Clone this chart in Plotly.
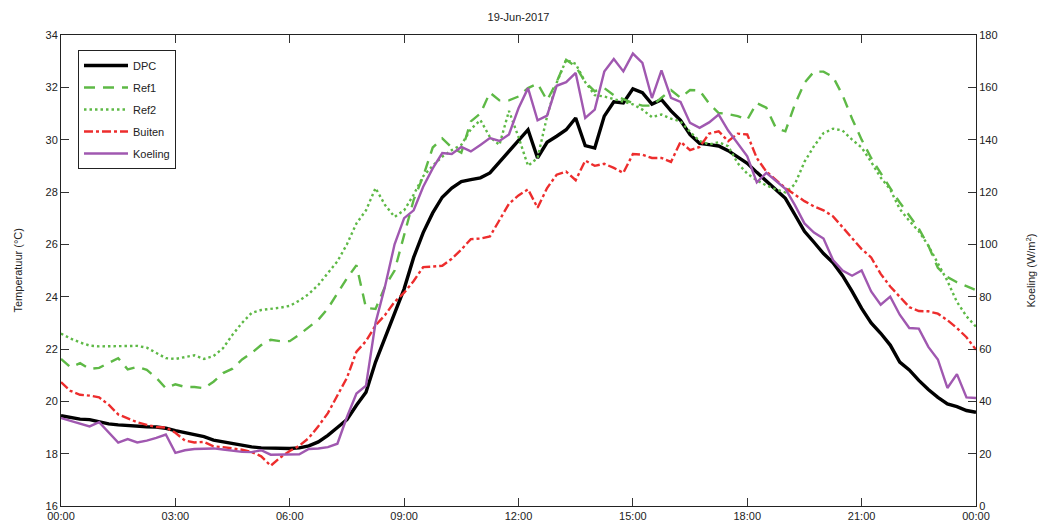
import pandas as pd
import plotly.graph_objects as go

times = pd.date_range("2017-06-19 00:00", periods=97, freq="15min")

dpc = [19.45, 19.38, 19.32, 19.3, 19.22, 19.14, 19.1, 19.07, 19.05, 19.03, 19.02, 18.97, 18.88, 18.8, 18.72, 18.65,
       18.52, 18.45, 18.38, 18.32, 18.26, 18.22, 18.21, 18.2, 18.2, 18.22, 18.3, 18.45, 18.7, 19.0, 19.3, 19.85,
       20.35, 21.5, 22.45, 23.4, 24.3, 25.5, 26.45, 27.2, 27.8, 28.15, 28.4, 28.47, 28.54, 28.73, 29.15, 29.55,
       30.0, 30.38, 29.3, 29.9, 30.13, 30.38, 30.83, 29.77, 29.68, 30.9, 31.45, 31.4, 31.94, 31.8, 31.36, 31.53,
       31.1, 30.74, 30.19, 29.86, 29.81, 29.76, 29.58, 29.35, 29.1, 28.75, 28.43, 28.12, 27.76, 27.13, 26.5, 26.08,
       25.65, 25.3, 24.8, 24.2, 23.55, 23.0, 22.6, 22.15, 21.5, 21.2, 20.8, 20.45, 20.15, 19.9, 19.8, 19.65, 19.58]

ref1 = [21.62, 21.3, 21.46, 21.24, 21.28, 21.45, 21.65, 21.22, 21.32, 21.2, 20.9, 20.5, 20.65, 20.55, 20.55, 20.5,
        20.75, 21.08, 21.25, 21.6, 21.85, 22.15, 22.35, 22.3, 22.3, 22.55, 22.85, 23.12, 23.55, 24.15, 24.7, 25.2,
        23.57, 23.53, 24.39, 25.0, 26.4, 27.7, 28.6, 29.7, 30.05, 29.7, 29.5, 30.7, 31.0, 31.8, 31.5, 31.5,
        31.65, 31.97, 32.14, 31.5, 32.2, 33.05, 32.8, 32.2, 31.85, 31.97, 31.7, 31.55, 31.4, 31.3, 31.3, 31.6,
        31.9, 31.6, 31.9, 31.88, 31.38, 31.02, 30.98, 30.9, 30.76, 31.4, 31.22, 30.45, 30.32, 31.35, 32.17, 32.6,
        32.6, 32.4, 31.7, 30.8, 30.0, 29.3, 28.7, 28.15, 27.6, 27.1, 26.6, 25.95, 25.1, 24.75, 24.55, 24.4, 24.25]

ref2 = [22.59, 22.4, 22.25, 22.13, 22.1, 22.1, 22.1, 22.1, 22.12, 22.05, 21.85, 21.65, 21.62, 21.68, 21.76, 21.62,
        21.73, 22.03, 22.55, 23.0, 23.38, 23.49, 23.53, 23.58, 23.65, 23.85, 24.1, 24.45, 24.9, 25.35, 26.0, 26.8,
        27.3, 28.15, 27.5, 27.05, 27.3, 27.9, 28.6, 29.0, 29.35, 29.6, 29.8, 30.4, 30.75, 30.1, 29.8, 31.1,
        30.1, 29.0, 29.3, 30.89, 32.17, 33.05, 32.9, 32.2, 31.7, 31.65, 31.55, 31.45, 31.35, 31.15, 30.86, 30.96,
        30.8, 30.7, 30.3, 29.95, 29.82, 29.9, 29.75, 29.1, 28.7, 28.45, 28.25, 28.1, 27.98, 28.3, 29.15, 29.75,
        30.25, 30.42, 30.35, 30.0, 29.7, 29.15, 28.55, 28.1, 27.35, 26.9, 26.5, 25.95, 25.3, 24.6, 23.8, 23.25, 22.85]

buiten = [20.73, 20.4, 20.25, 20.22, 20.15, 19.87, 19.5, 19.35, 19.2, 19.1, 19.02, 19.0, 18.8, 18.5, 18.43, 18.45,
          18.28, 18.25, 18.2, 18.15, 18.06, 17.9, 17.54, 17.85, 18.1, 18.3, 18.6, 19.05, 19.55, 20.2, 20.9, 21.9,
          22.3, 22.9, 23.3, 23.8, 24.15, 24.6, 25.13, 25.15, 25.18, 25.45, 25.8, 26.2, 26.22, 26.3, 26.9, 27.55,
          27.87, 28.1, 27.4, 28.15, 28.66, 28.78, 28.45, 29.2, 29.0, 29.08, 28.92, 28.73, 29.45, 29.43, 29.3, 29.3,
          29.15, 29.92, 29.6, 29.72, 30.23, 30.32, 29.94, 30.23, 30.2, 29.3, 28.78, 28.45, 28.15, 27.9, 27.65, 27.45,
          27.3, 27.07, 26.65, 26.2, 25.82, 25.5, 24.87, 24.39, 24.0, 23.6, 23.45, 23.44, 23.35, 23.1, 22.8, 22.45, 21.97]

koeling = [33.6, 32.5, 31.5, 30.4, 32.0, 28.0, 24.2, 25.6, 24.3, 25.0, 26.0, 27.3, 20.3, 21.3, 21.8, 21.9,
           22.0, 21.6, 21.2, 20.7, 20.6, 21.3, 19.6, 19.6, 19.7, 19.8, 21.8, 22.0, 22.5, 23.8, 34.0, 43.0,
           46.0, 70.0, 84.0, 100.0, 110.0, 113.0, 122.0, 129.0, 134.9, 134.5, 137.2, 135.5, 138.0, 140.6, 139.5, 142.0,
           152.0, 159.7, 147.4, 149.2, 160.6, 162.0, 165.5, 148.3, 151.5, 166.0, 170.8, 166.1, 172.9, 169.3, 155.9, 166.5,
           156.0, 154.4, 146.4, 144.5, 146.6, 149.6, 143.5, 138.5, 133.6, 123.7, 127.3, 124.3, 121.2, 115.0, 108.0, 104.5,
           102.2, 94.0, 90.0, 88.0, 90.0, 82.0, 76.9, 80.0, 73.1, 68.0, 67.8, 60.8, 56.0, 45.1, 50.4, 41.5, 41.3]

GREEN = "rgb(94,185,70)"
RED = "rgb(237,45,45)"
PURPLE = "rgb(160,88,176)"

fig = go.Figure()
fig.add_trace(go.Scatter(x=times, y=dpc, name="DPC", mode="lines", legendgroup="a",
                         line=dict(color="black", width=3.4)))
fig.add_trace(go.Scatter(x=times, y=ref1, name="Ref1", mode="lines", legendgroup="b",
                         line=dict(color=GREEN, width=2.4, dash="11px,8px")))
fig.add_trace(go.Scatter(x=times, y=ref2, name="Ref2", mode="lines", legendgroup="c",
                         line=dict(color=GREEN, width=2.4, dash="2.5px,3px")))
fig.add_trace(go.Scatter(x=times, y=buiten, name="Buiten", mode="lines", legendgroup="d",
                         line=dict(color=RED, width=2.4, dash="9px,3px,3px,3px")))
fig.add_trace(go.Scatter(x=times, y=koeling, name="Koeling", mode="lines", yaxis="y2", legendgroup="e",
                         line=dict(color=PURPLE, width=2.4)))

font = "Liberation Sans, Arial, Helvetica, sans-serif"
axis_common = dict(showgrid=False, zeroline=False, showline=True, linecolor="#222", linewidth=1,
                   ticks="inside", ticklen=8, tickcolor="#333", tickfont=dict(size=11, color="#222"))

fig.update_layout(
    width=1038, height=528,
    margin=dict(l=61, r=62, t=35, b=22, autoexpand=False),
    paper_bgcolor="white", plot_bgcolor="white",
    font=dict(family=font, size=11, color="#222"),
    title=dict(text="19-Jun-2017", x=0.5, xref="paper", y=1 - 17 / 528, yref="container",
               yanchor="middle", xanchor="center", font=dict(size=11, color="#222")),
    xaxis=dict(**axis_common, type="date", range=["2017-06-19 00:00", "2017-06-20 00:00"],
               tickformat="%H:%M", dtick=3 * 3600 * 1000, tick0="2017-06-19 00:00",
               mirror="ticks", automargin=False),
    yaxis=dict(**axis_common, range=[16, 34], dtick=2, automargin=False),
    yaxis2=dict(**axis_common, range=[0, 180], dtick=20, overlaying="y", side="right", automargin=False),
    legend=dict(x=(78 - 61) / 915, y=(506 - 50) / 471, xanchor="left", yanchor="top",
                bgcolor="white", bordercolor="#222", borderwidth=1, itemwidth=44,
                entrywidth=106, entrywidthmode="pixels",
                font=dict(size=11, color="#222"), tracegroupgap=3),
    annotations=[
        dict(text="Temperatuur (°C)", xref="paper", yref="paper", x=(17 - 61) / 915, y=0.5,
             textangle=-90, showarrow=False, xanchor="center", yanchor="middle",
             font=dict(size=11, color="#222")),
        dict(text="Koeling (W/m<sup>2</sup>)", xref="paper", yref="paper", x=(1030 - 61) / 915, y=0.5,
             textangle=-90, showarrow=False, xanchor="center", yanchor="middle",
             font=dict(size=11, color="#222")),
    ],
    showlegend=True,
)

fig.write_html("out.html")
